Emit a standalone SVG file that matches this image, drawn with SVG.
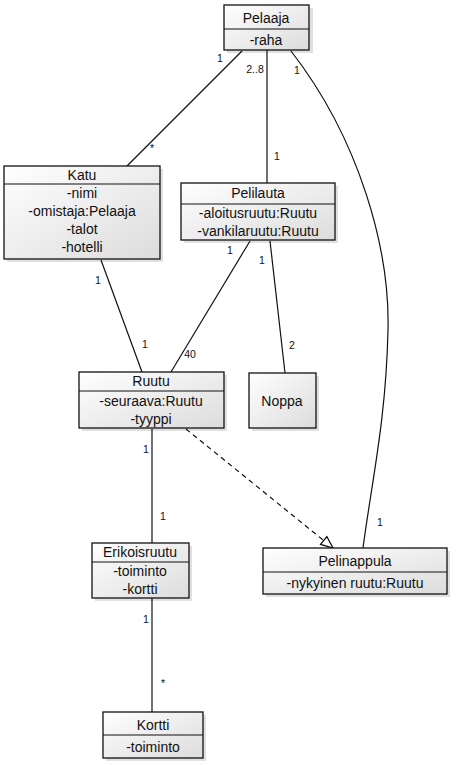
<svg xmlns="http://www.w3.org/2000/svg" width="459" height="765" viewBox="0 0 459 765">
<defs>
<linearGradient id="g" x1="0" y1="0" x2="1" y2="1">
<stop offset="0" stop-color="#ffffff"/>
<stop offset="1" stop-color="#dcdcdc"/>
</linearGradient>
<marker id="tri" viewBox="0 0 14 12" refX="13" refY="6" markerWidth="14" markerHeight="12" markerUnits="userSpaceOnUse" orient="auto">
<path d="M1,1 L13,6 L1,11 Z" fill="#fff" stroke="#000" stroke-width="1.2"/>
</marker>
</defs>
<style>
.box{fill:url(#g);stroke:#111;stroke-width:1.3}
.sh{fill:#000;opacity:0.12}
.div{stroke:#111;stroke-width:1.1}
.t{font-family:"Liberation Sans",Arial,sans-serif;font-size:14px;fill:#111;text-anchor:middle}
.l{font-family:"Liberation Sans",Arial,sans-serif;font-size:10.5px;fill:#111;text-anchor:middle}
.c{fill:none;stroke:#111;stroke-width:1.2}
.d{fill:none;stroke:#111;stroke-width:1.2;stroke-dasharray:5,4}
</style>
<g id="connectors">
<path class="c" d="M242,51 L127,166"/>
<path class="c" d="M267,50 L267,183"/>
<path class="c" d="M291,51 C360,140 390,250 388,330 C386,420 372,480 363,548"/>
<path class="c" d="M101,260 L142,372"/>
<path class="c" d="M250,241 L171,372"/>
<path class="c" d="M270,241 L285,373"/>
<path class="d" d="M186,429 L333,548" marker-end="url(#tri)"/>
<path class="c" d="M152,429 L152,543"/>
<path class="c" d="M152,598 L152,712"/>
<text class="l" x="220" y="62">1</text>
<text class="l" x="152" y="152">*</text>
<text class="l" x="255" y="73">2..8</text>
<text class="l" x="277" y="160">1</text>
<text class="l" x="297" y="74">1</text>
<text class="l" x="380" y="526">1</text>
<text class="l" x="98" y="284">1</text>
<text class="l" x="145" y="348">1</text>
<text class="l" x="230" y="254">1</text>
<text class="l" x="190" y="358">40</text>
<text class="l" x="262" y="264">1</text>
<text class="l" x="292" y="349">2</text>
<text class="l" x="146" y="453">1</text>
<text class="l" x="163" y="520">1</text>
<text class="l" x="146" y="623">1</text>
<text class="l" x="163" y="687">*</text>
</g>
<g id="Pelaaja">
<rect class="sh" x="227" y="8" width="86" height="45"/>
<rect class="box" x="224" y="5" width="85" height="45"/>
<line class="div" x1="224" y1="29" x2="309" y2="29"/>
<text class="t" x="266" y="23">Pelaaja</text>
<text class="t" x="266" y="45">-raha</text>
</g>
<g id="Katu">
<rect class="sh" x="7" y="169" width="156" height="93"/>
<rect class="box" x="4" y="166" width="156" height="93"/>
<line class="div" x1="4" y1="184" x2="160" y2="184"/>
<text class="t" x="82" y="180">Katu</text>
<text class="t" x="82" y="198">-nimi</text>
<text class="t" x="82" y="216">-omistaja:Pelaaja</text>
<text class="t" x="82" y="234">-talot</text>
<text class="t" x="82" y="252">-hotelli</text>
</g>
<g id="Pelilauta">
<rect class="sh" x="184" y="186" width="154" height="57"/>
<rect class="box" x="181" y="183" width="154" height="57"/>
<line class="div" x1="181" y1="204" x2="335" y2="204"/>
<text class="t" x="258" y="198">Pelilauta</text>
<text class="t" x="258" y="218">-aloitusruutu:Ruutu</text>
<text class="t" x="258" y="236">-vankilaruutu:Ruutu</text>
</g>
<g id="Ruutu">
<rect class="sh" x="82" y="375" width="145" height="56"/>
<rect class="box" x="79" y="372" width="145" height="56"/>
<line class="div" x1="79" y1="391" x2="224" y2="391"/>
<text class="t" x="151" y="386">Ruutu</text>
<text class="t" x="151" y="406">-seuraava:Ruutu</text>
<text class="t" x="151" y="424">-tyyppi</text>
</g>
<g id="Noppa">
<rect class="sh" x="252" y="376" width="67" height="55"/>
<rect class="box" x="249" y="373" width="67" height="55"/>
<text class="t" x="282" y="406">Noppa</text>
</g>
<g id="Erikoisruutu">
<rect class="sh" x="95" y="546" width="97" height="55"/>
<rect class="box" x="92" y="543" width="97" height="55"/>
<line class="div" x1="92" y1="562" x2="189" y2="562"/>
<text class="t" x="140" y="557">Erikoisruutu</text>
<text class="t" x="140" y="576">-toiminto</text>
<text class="t" x="140" y="594">-kortti</text>
</g>
<g id="Pelinappula">
<rect class="sh" x="266" y="551" width="184" height="46"/>
<rect class="box" x="263" y="548" width="184" height="46"/>
<line class="div" x1="263" y1="572" x2="447" y2="572"/>
<text class="t" x="355" y="566">Pelinappula</text>
<text class="t" x="355" y="588">-nykyinen ruutu:Ruutu</text>
</g>
<g id="Kortti">
<rect class="sh" x="106" y="715" width="100" height="46"/>
<rect class="box" x="103" y="712" width="100" height="46"/>
<line class="div" x1="103" y1="735" x2="203" y2="735"/>
<text class="t" x="153" y="730">Kortti</text>
<text class="t" x="153" y="752">-toiminto</text>
</g>
</svg>
